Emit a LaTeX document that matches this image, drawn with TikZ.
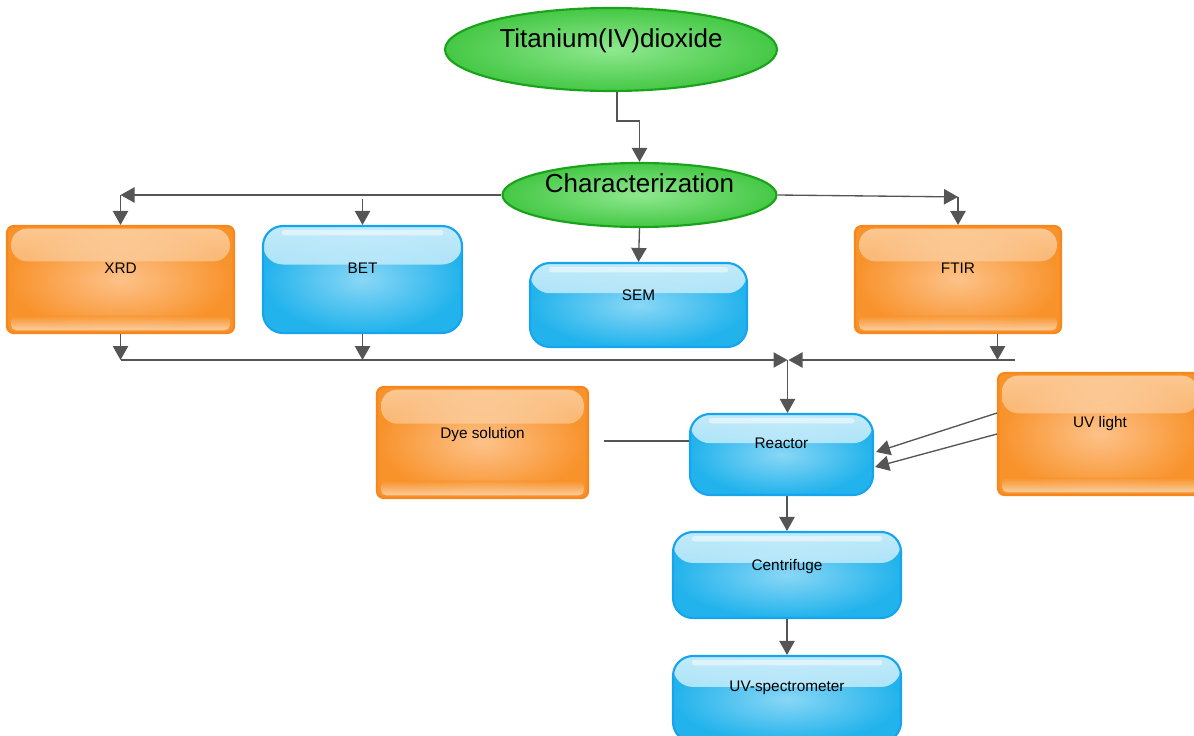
\documentclass[tikz,border=0pt]{standalone}
\usepackage{fontspec}
\setmainfont{Liberation Sans}
\usetikzlibrary{arrows.meta,calc,shapes.geometric}
\definecolor{oborder}{HTML}{F7861C}
\definecolor{omain}{HTML}{F8922A}
\definecolor{olight}{HTML}{FDC28A}
\definecolor{bborder}{HTML}{17A4EE}
\definecolor{bmain}{HTML}{22B3EC}
\definecolor{blight}{HTML}{8AD7F6}
\definecolor{btop}{HTML}{D4F1FC}
\definecolor{bmid}{HTML}{93DBF7}
\definecolor{gborder}{HTML}{1AA31A}
\definecolor{gmain}{HTML}{45C845}
\definecolor{glight}{HTML}{8FE88F}
\definecolor{conncol}{HTML}{555555}
\tikzset{
 sz/.style 2 args={minimum width=#1*0.75pt, minimum height=#2*0.75pt},
 lbl/.style={font=\fontsize{11.5}{13}\selectfont, inner sep=0pt, text height=8.2pt, text depth=0pt, text=black},
 big/.style={font=\fontsize{19.5}{22}\selectfont, inner sep=0pt, text height=14pt, text depth=0pt, text=black},
 obox/.style={rectangle, rounded corners=5pt, draw=oborder, line width=1.6pt, inner color=olight, outer color=omain, inner sep=0pt,
   path picture={
    \shade[top color=white, bottom color=omain, opacity=0.5, rounded corners=12pt]
      ($(path picture bounding box.north west)+(3pt,-2pt)$) rectangle ($(path picture bounding box.north east)!0.33!(path picture bounding box.south east)+(-3pt,0)$);
    \shade[top color=omain, bottom color=white, opacity=0.55, rounded corners=4pt]
      ($(path picture bounding box.south west)+(3pt,13pt)$) rectangle ($(path picture bounding box.south east)+(-3pt,2pt)$);
   }},
 bbox/.style={rectangle, rounded corners=15pt, draw=bborder, line width=1.6pt, inner color=blight, outer color=bmain, inner sep=0pt,
   path picture={
    \shade[top color=btop, bottom color=bmid, opacity=0.9]
      (path picture bounding box.north west) rectangle ($(path picture bounding box.north east)!0.36!(path picture bounding box.south east)$);
    \fill[white, opacity=0.5, rounded corners=2pt]
      ($(path picture bounding box.north west)+(14pt,-3pt)$) rectangle ($(path picture bounding box.north east)+(-14pt,-7pt)$);
   }},
 gell/.style={ellipse, draw=gborder, line width=1.6pt, inner color=glight, outer color=gmain, inner sep=0pt},
 conn/.style={draw=conncol, line width=1pt, -{Triangle[length=10.5pt,width=11.5pt]}},
 plain/.style={draw=conncol, line width=1pt}
}
\begin{document}
\begin{tikzpicture}[x=0.75pt,y=-0.75pt]
\useasboundingbox (0,0) rectangle (1194,735);
\clip (0,0) rectangle (1194,735);
% ellipses
\node[gell, sz={332}{83}, label={[big,yshift=8.25pt]center:Titanium(IV)dioxide}] (ti) at (611,49.5) {};
\node[gell, sz={274}{64}, label={[big,yshift=8.6pt]center:Characterization}] (ch) at (639.5,195) {};
% boxes
\node[obox, sz={227}{107}, label={[lbl,yshift=8.6pt]center:XRD}] (xrd) at (120.5,279.5) {};
\node[bbox, sz={199}{107}, label={[lbl,yshift=8.6pt]center:BET}] (bet) at (362.5,279.5) {};
\node[bbox, sz={217}{84}, label={[lbl,yshift=7.5pt]center:SEM}] (sem) at (638.5,305) {};
\node[obox, sz={206}{107}, label={[lbl,yshift=8.6pt]center:FTIR}] (ftir) at (958,279.5) {};
\node[obox, sz={211}{111}, label={[lbl,yshift=7.1pt]center:Dye solution}] (dye) at (482.5,442.5) {};
\node[bbox, sz={183}{81}, label={[lbl,yshift=8.6pt]center:Reactor}] (reactor) at (781.5,454.5) {};
\node[obox, sz={204}{122}, label={[lbl,yshift=9pt]center:UV light}] (uv) at (1100,434) {};
\node[bbox, sz={228}{86}, label={[lbl,yshift=7.5pt]center:Centrifuge}] (cent) at (787,575) {};
\node[bbox, sz={228}{86}, label={[lbl,yshift=9.75pt]center:UV-spectrometer}] (uvs) at (787,699) {};
% helper coordinates
\coordinate (merge) at (787.5,360);
\coordinate (fk) at ($(ftir.north)+(0,-28)$);
\coordinate (ftb) at ($(ftir.south)+(39.5,0)$);
\coordinate (busR) at ($(ftb |- merge)+(17.5,0)$);
\coordinate (dyeend) at ($(dye.east)+(15,-1.5)$);
% connectors
\draw[conn] ([xshift=4.5pt]ti.south) -- ++(0,29) -| (ch.north);
\draw[conn] (ch.west) -- (xrd.north |- ch.west);
\draw[conn] (xrd.north |- ch.west) -- (xrd.north);
\draw[conn] ($(bet.north |- ch.west)+(0,4)$) -- (bet.north);
\draw[conn] (ch.south) -- (sem.north);
\draw[conn] (ch.east) -- (fk);
\draw[conn] (fk) -- (ftir.north);
\draw[conn] (xrd.south) -- (xrd.south |- merge);
\draw[conn] (bet.south) -- (bet.south |- merge);
\draw[conn] (xrd.south |- merge) -- (merge);
\draw[conn] (ftb) -- (ftb |- merge);
\draw[conn] (busR) -- ($(merge)+(1,0)$);
\draw[conn] (merge) -- (merge |- reactor.north);
\draw[plain] (dyeend) -- (dyeend -| reactor.west);
\draw[conn] ($(uv.west)+(0,-21)$) -- ($(reactor.east)+(2,-2.5)$);
\draw[conn] (uv.west) -- ($(reactor.east)+(1,12.5)$);
\draw[conn] (reactor.south -| cent.north) -- (cent.north);
\draw[conn] (cent.south) -- (uvs.north);
\end{tikzpicture}
\end{document}
